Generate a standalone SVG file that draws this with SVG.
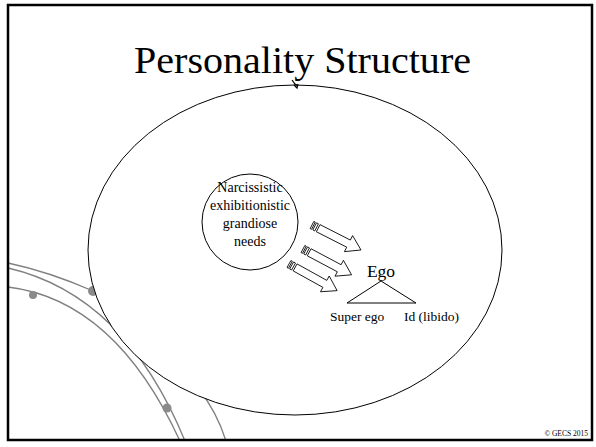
<svg xmlns="http://www.w3.org/2000/svg" width="596" height="447" viewBox="0 0 596 447">
<style>
.t{font-family:'Liberation Serif',serif;fill:#000}
.orb{fill:none;stroke:#808080;stroke-width:1.3}
.dot{fill:#8a8a8a}
.arw{fill:#fff;stroke:#000;stroke-width:0.8}
.ln{fill:none;stroke:#000;stroke-width:1}
</style>
<defs>
<g id="stripedArrow">
<rect class="arw" x="0" y="-4" width="1.6" height="8"/>
<rect class="arw" x="3" y="-4" width="2.2" height="8"/>
<path class="arw" d="M7,-4 H41 V-9 L55,0 L41,9 V4 H7 Z"/>
</g>
</defs>
<rect width="596" height="447" fill="#fff"/>
<g id="decor">
<path class="orb" d="M8,263 Q50,272 93,291"/>
<path class="orb" d="M8,268 Q125,295 185,441"/>
<path class="orb" d="M8,287 Q115,300 180,441"/>
<path class="orb" d="M198,388 Q217,412 226,441"/>
<circle class="dot" cx="33" cy="295" r="4"/>
<circle class="dot" cx="93" cy="291" r="5"/>
<circle class="dot" cx="167" cy="408" r="4.5"/>
</g>
<g id="frame">
<rect x="8" y="5" width="584" height="435" fill="none" stroke="#000" stroke-width="2.5"/>
</g>
<g id="title">
<text class="t" x="302.5" y="73" font-size="37" text-anchor="middle" textLength="337" lengthAdjust="spacingAndGlyphs">Personality Structure</text>
</g>
<g id="personality">
<ellipse cx="295" cy="250" rx="207" ry="165" fill="#fff" stroke="#000" stroke-width="1"/>
<path d="M292,80 L295,84 L298,86 M294,85 L297,88 L298,84" fill="none" stroke="#000" stroke-width="1.2"/>
</g>
<g id="needs">
<circle cx="250" cy="222" r="48" fill="#fff" stroke="#000" stroke-width="1"/>
<text class="t" font-size="14" text-anchor="middle"><tspan x="250" y="192">Narcissistic</tspan><tspan x="250" y="210">exhibitionistic</tspan><tspan x="250" y="228">grandiose</tspan><tspan x="250" y="246">needs</tspan></text>
</g>
<g id="connectors">
<use href="#stripedArrow" transform="translate(312,225) rotate(27)"/>
<use href="#stripedArrow" transform="translate(303,249) rotate(28)"/>
<use href="#stripedArrow" transform="translate(289,264) rotate(29)"/>
</g>
<g id="ego">
<text class="t" x="381" y="277" font-size="17.5" text-anchor="middle">Ego</text>
<path class="ln" d="M381,281 L347,303 L416,303 Z"/>
<text class="t" x="330" y="321" font-size="13.5">Super ego</text>
<text class="t" x="404" y="321" font-size="13.5">Id (libido)</text>
</g>
<g id="footer">
<text class="t" x="588" y="436" font-size="7.5" text-anchor="end">© GECS 2015</text>
</g>
</svg>
